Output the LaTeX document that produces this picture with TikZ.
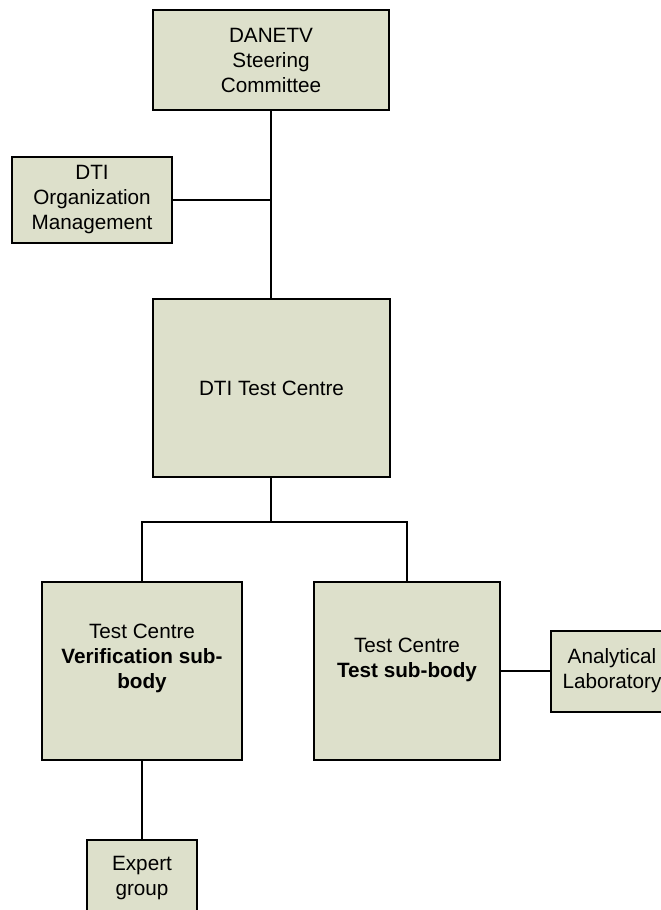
\documentclass[tikz,border=0pt]{standalone}
\usepackage{fontspec}
\setmainfont{Liberation Sans}
\definecolor{boxfill}{RGB}{221,224,203}
\begin{document}
\begin{tikzpicture}[x=1pt,y=-1pt,
  box/.style={draw=black,line width=2pt,fill=boxfill,inner sep=0pt,align=center,font=\fontsize{20.7}{25}\selectfont},
  txt/.style={inner sep=0pt,align=center,font=\fontsize{20.7}{25}\selectfont},
  link/.style={line width=2pt}]
\useasboundingbox (0,0) rectangle (661,910);
\clip (0,0) rectangle (661,910);
\node[box,minimum width=236pt,minimum height=100pt] (danetv) at (271,60) {DANETV\\Steering\\Committee};
\node[box,minimum width=160pt,minimum height=86pt] (org) at (92,200) {DTI\\Organization\\Management};
\node[box,minimum width=237pt,minimum height=178pt] (dtc) at (271.5,388) {DTI Test Centre};
\node[box,minimum width=200pt,minimum height=178pt] (ver) at (142,671) {};
\node[txt] (vertxt) at (142,658) {Test Centre\\\textbf{Verification sub-}\\\textbf{body}};
\node[box,minimum width=186pt,minimum height=178pt] (tsb) at (407,671) {};
\node[txt] (tsbtxt) at (407,659.5) {Test Centre\\\textbf{Test sub-body}};
\node[box,minimum width=122pt,minimum height=81pt] (lab) at (612,671) {Analytical\\Laboratory};
\node[box,minimum width=110pt,minimum height=76pt] (exp) at (142,878) {Expert\\group};
\coordinate (j2) at (271,522);
\draw[link,line width=2.6pt] (danetv.south) -- (danetv.south |- dtc.north);
\draw[link] (org.east) -- (org.east -| danetv.south);
\draw[link] (dtc.south -| danetv.south) -- (j2);
\draw[link] (ver.north) -- (ver.north |- j2) -- (tsb.north |- j2) -- (tsb.north);
\draw[link] (tsb.east) -- (lab.west);
\draw[link] (ver.south) -- (exp.north);
\end{tikzpicture}
\end{document}
